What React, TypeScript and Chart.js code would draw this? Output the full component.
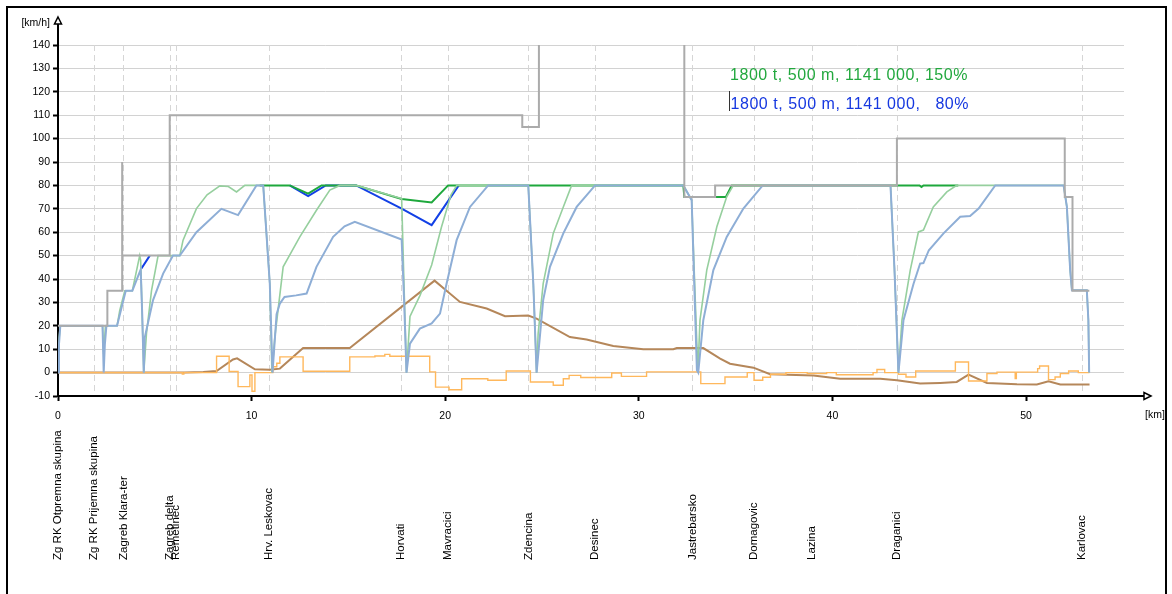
import React, { useEffect, useRef } from "react";
import { Chart, registerables } from "chart.js";

Chart.register(...registerables);

type P = [number, number | null];

// ---- axis / labels ----
const yMin = -10;
const yMax = 140;
const yStep = 10;
const xMin = 0;
const xMax = 55.06;
const xStep = 10;
const yAxisTitle = "[km/h]";
const xAxisTitle = "[km]";

// ---- stations ----
const stationKm = [0, 1.85, 3.38, 5.76, 6.1, 10.9, 17.7, 20.15, 24.3, 27.74, 32.77, 35.95, 38.94, 43.33, 52.89];
const stationNames = [
  "Zg RK Otpremna skupina",
  "Zg RK Prijemna skupina",
  "Zagreb Klara-ter",
  "Zagreb delta",
  "Remetinec",
  "Hrv. Leskovac",
  "Horvati",
  "Mavracici",
  "Zdencina",
  "Desinec",
  "Jastrebarsko",
  "Domagovic",
  "Lazina",
  "Draganici",
  "Karlovac",
];

// ---- legend texts ----
const legendGreen = "1800 t, 500 m, 1141 000, 150%";
const legendBlue = "1800 t, 500 m, 1141 000,   80%";

// ---- series: [km, value] ----
const speedLimit: P[] = [
  [0, 20], [2.55, 20], [2.55, 35], [3.31, 35], [3.31, 90], [3.32, 50], [5.77, 50], [5.77, 110],
  [23.98, 110], [23.98, 105], [24.84, 105], [24.84, 160], [32.35, 160], [32.35, 75],
  [33.94, 75], [33.94, 80], [43.33, 80], [43.33, 100], [52.0, 100], [52.0, 75], [52.4, 75],
  [52.4, 35], [53.27, 35],
];

const lightBlue: P[] = [
  [0, 0], [0.05, 12], [0.12, 20], [2.3, 20], [2.36, 0], [2.42, 12], [2.5, 20], [3.05, 20],
  [3.5, 35], [3.84, 35], [4.27, 44], [4.35, 25], [4.43, 0], [4.48, 15], [4.91, 31], [5.43, 42.3],
  [5.94, 50], [6.29, 50], [7.15, 60], [8.44, 70], [9.3, 67.3], [10.25, 80], [10.6, 80],
  [10.94, 38], [11.08, 0], [11.29, 25], [11.46, 29.5], [11.7, 32.3], [12.3, 33], [12.84, 33.8],
  [13.35, 45.2], [14.21, 58], [14.8, 62.5], [15.33, 64.4], [17.75, 56.9], [17.88, 30], [18.0, 0],
  [18.18, 12.4], [18.69, 18.8], [19.3, 21], [19.73, 25.2], [20.07, 38], [20.59, 56.6],
  [21.28, 70.8], [22.22, 80], [24.29, 80], [24.55, 38], [24.72, 0], [25.06, 31], [25.41, 45.2],
  [26.1, 59.5], [26.79, 70.8], [27.74, 80], [32.3, 80], [32.73, 73.7], [33.0, 1], [33.07, 0],
  [33.33, 22.4], [33.85, 43.8], [34.54, 58], [35.4, 70.1], [36.4, 80], [43.0, 80], [43.2, 45],
  [43.41, 0], [43.67, 22.4], [44.19, 38], [44.53, 46.6], [44.7, 46.8], [44.98, 52.3],
  [45.74, 59.5], [46.6, 66.6], [47.11, 66.9], [47.55, 70.1], [48.41, 80], [51.94, 80],
  [52.11, 70.8], [52.28, 43.8], [52.37, 35.2], [53.14, 35.2], [53.22, 22.4], [53.26, 0],
];

const lightGreen: P[] = [
  [0, 0], [0.06, 15], [0.12, 20], [2.3, 20], [2.36, 8], [2.45, 20], [3.05, 20], [3.19, 26.6],
  [3.45, 35], [3.84, 35], [4.22, 50], [4.27, 48], [4.43, 0], [4.57, 16.7], [4.83, 35],
  [5.17, 50], [6.29, 50], [6.46, 56.6], [7.15, 70.1], [7.7, 76], [8.36, 79.8], [8.8, 79.5],
  [9.22, 77.2], [9.65, 80], [10.6, 80], [10.94, 38], [11.05, 0], [11.2, 15.2], [11.63, 45.2],
  [12.49, 58], [13.35, 69.4], [14.04, 78], [14.56, 80], [15.4, 80], [17.75, 74.4],
  [17.88, 35], [18.0, 0], [18.18, 24], [18.7, 33], [19.3, 46], [19.8, 62], [20.3, 76],
  [20.6, 80], [24.29, 80], [24.55, 38], [24.72, 0], [24.8, 16.7], [25.06, 38], [25.58, 59.5],
  [26.1, 70.8], [26.53, 80], [32.3, 80], [32.73, 73.7], [33.05, 0], [33.16, 22.4],
  [33.51, 43.8], [34.03, 62.3], [34.54, 75.1], [34.88, 80], [43.0, 80], [43.2, 45], [43.41, 0],
  [43.59, 22.4], [44.02, 43.8], [44.44, 60.1], [44.7, 60.9], [45.21, 70.8], [45.91, 77.2],
  [46.42, 80], [51.94, 80], [52.11, 70.8], [52.28, 43.8], [52.37, 35.2], [53.14, 35.2],
  [53.22, 22.4], [53.26, 0],
];

const darkGreen: P[] = [
  [10.42, 80], [11.97, 80], [12.92, 76.5], [13.61, 80], [15.4, 80], [17.75, 74.2],
  [19.3, 72.7], [20.15, 80], [32.3, 80], [32.35, 75], [34.49, 75], [34.8, 80], [44.5, 80],
  [44.6, 79.3], [44.7, 80], [46.5, 80],
];

const darkBlue: P[] = [
  [4.31, 44.5], [4.74, 50], [4.75, null], [11.97, 80], [12.92, 75.4], [13.83, 80], [15.4, 80],
  [17.75, 70.1], [19.3, 63], [20.7, 80],
];

const brownProfile: P[] = [
  [0, 0], [6.55, 0], [7.5, 0.3], [8.19, 0.7], [9.04, 5.6], [9.25, 6.1], [10.17, 1.4],
  [10.94, 1.2], [11.46, 1.7], [12.66, 10.5], [15.07, 10.5], [19.45, 39.3], [20.07, 35],
  [20.76, 30.2], [22.14, 27.4], [23.09, 24.1], [24.29, 24.4], [24.72, 23.1], [26.44, 15.2],
  [27.3, 14.1], [28.68, 11.4], [30.23, 10], [31.78, 10], [31.96, 10.5], [33.33, 10.5],
  [34.2, 6], [34.71, 3.8], [35.92, 2.1], [36.78, -0.7], [39.02, -1.2], [40.4, -2.6],
  [42.47, -2.6], [43.33, -3.3], [44.53, -4.7], [45.57, -4.4], [46.42, -4], [47.03, -0.9],
  [47.98, -4.4], [49.53, -5], [50.56, -5.1], [51.16, -3.7], [51.77, -5.1], [53.28, -5.1],
];

const orangeSteps: P[] = [
  [0, 0], [6.42, 0], [6.42, -0.6], [6.5, -0.6], [6.5, 0], [8.19, 0], [8.19, 7], [8.84, 7],
  [8.84, 0.5], [9.3, 0.5], [9.3, -6], [9.91, -6], [9.91, -1], [10.02, -1], [10.02, -8],
  [10.17, -8], [10.17, 0], [11.1, 0], [11.1, 2.5], [11.3, 2.5], [11.3, 4], [11.46, 4],
  [11.46, 6.7], [12.66, 6.7], [12.66, 0.6], [15.07, 0.6], [15.07, 6.7], [16.37, 6.7],
  [16.37, 7.1], [16.88, 7.1], [16.88, 7.8], [17.14, 7.8], [17.14, 7], [19.2, 7], [19.2, 0.3],
  [19.5, 0.3], [19.5, -6.2], [20.2, -6.2], [20.2, -7.3], [20.85, -7.3], [20.85, -2.6],
  [22.2, -2.6], [22.2, -3.3], [23.15, -3.3], [23.15, 0.7], [24.4, 0.7], [24.4, -4],
  [25.58, -4], [25.58, -5.4], [26.1, -5.4], [26.1, -2.6], [26.4, -2.6], [26.4, -1.2],
  [27.0, -1.2], [27.0, -2.1], [28.6, -2.1], [28.6, -0.2], [29.1, -0.2], [29.1, -1.6],
  [30.4, -1.6], [30.4, 0.3], [33.2, 0.3], [33.2, -4.7], [34.45, -4.7], [34.45, -1.9],
  [35.6, -1.9], [35.6, 0], [35.95, 0], [35.95, -3.3], [36.4, -3.3], [36.4, -2], [36.8, -2],
  [36.8, -0.7], [37.6, -0.7], [37.6, 0], [38.7, 0], [38.7, -0.4], [39.7, -0.4], [39.7, 0],
  [40.2, 0], [40.2, -0.9], [42.1, -0.9], [42.1, 0], [42.3, 0], [42.3, 1.3], [42.7, 1.3],
  [42.7, 0], [43.4, 0], [43.4, -0.7], [43.8, -0.7], [43.8, -1.9], [44.3, -1.9], [44.3, 0.7],
  [46.35, 0.7], [46.35, 4.5], [47.03, 4.5], [47.03, -3.6], [47.98, -3.6], [47.98, -0.4],
  [48.5, -0.4], [48.5, 0.2], [49.44, 0.2], [49.44, -2.5], [49.5, -2.5], [49.5, 0.2],
  [50.6, 0.2], [50.6, 1.7], [50.7, 1.7], [50.7, 2.8], [51.16, 2.8], [51.16, -3], [51.5, -3],
  [51.5, -1.9], [51.77, -1.9], [51.77, -0.4], [52.2, -0.4], [52.2, 0.7], [52.7, 0.7],
  [52.7, 0], [53.28, 0],
];

const FONT = '"Liberation Sans", Arial, Helvetica, sans-serif';

const toXY = (arr: P[]) => arr.map(([x, y]) => ({ x, y }));

const decorPlugin = {
  id: "decor",
  beforeDatasetsDraw(chart: any) {
    const { ctx, chartArea: a, scales } = chart;
    const x = scales.x;
    ctx.save();
    ctx.strokeStyle = "#d6d6d6";
    ctx.lineWidth = 1;
    ctx.setLineDash([6, 4]);
    stationKm.forEach((km) => {
      if (km <= 0) return;
      const px = Math.round(x.getPixelForValue(km)) + 0.5;
      ctx.beginPath();
      ctx.moveTo(px, a.top);
      ctx.lineTo(px, a.bottom - 1);
      ctx.stroke();
    });
    ctx.restore();
  },
  afterDraw(chart: any) {
    const { ctx, chartArea: a, scales } = chart;
    const x = scales.x;
    ctx.save();
    // axis extensions
    ctx.strokeStyle = "#000";
    ctx.lineWidth = 2;
    ctx.beginPath();
    ctx.moveTo(a.left, a.top + 1);
    ctx.lineTo(a.left, 23);
    ctx.moveTo(a.right - 1, a.bottom);
    ctx.lineTo(1144, a.bottom);
    ctx.stroke();
    // arrows (open triangles)
    ctx.lineWidth = 1.5;
    ctx.fillStyle = "#fff";
    ctx.beginPath();
    ctx.moveTo(a.left, 17);
    ctx.lineTo(a.left + 3.5, 24);
    ctx.lineTo(a.left - 3.5, 24);
    ctx.closePath();
    ctx.fill();
    ctx.stroke();
    ctx.beginPath();
    ctx.moveTo(1151, a.bottom);
    ctx.lineTo(1144, a.bottom - 3.5);
    ctx.lineTo(1144, a.bottom + 3.5);
    ctx.closePath();
    ctx.fill();
    ctx.stroke();
    // axis titles
    ctx.fillStyle = "#000";
    ctx.font = `10.5px ${FONT}`;
    ctx.textBaseline = "middle";
    ctx.textAlign = "right";
    ctx.fillText(yAxisTitle, 50, 23);
    ctx.textAlign = "left";
    ctx.fillText(xAxisTitle, 1145, 415);
    // station labels
    ctx.font = `11.5px ${FONT}`;
    ctx.textAlign = "left";
    ctx.textBaseline = "middle";
    stationKm.forEach((km, i) => {
      const px = x.getPixelForValue(km);
      ctx.save();
      ctx.translate(px, 560);
      ctx.rotate(-Math.PI / 2);
      ctx.fillText(stationNames[i], 0, 0);
      ctx.restore();
    });
    // legend texts
    ctx.font = `16px ${FONT}`;
    (ctx as any).letterSpacing = "0.55px";
    ctx.textBaseline = "alphabetic";
    ctx.textAlign = "left";
    ctx.fillStyle = "#22a83e";
    ctx.fillText(legendGreen, 730, 79.5);
    ctx.fillStyle = "#1638e0";
    ctx.fillText(legendBlue, 730.5, 108.5);
    (ctx as any).letterSpacing = "0px";
    ctx.strokeStyle = "#333";
    ctx.lineWidth = 1;
    ctx.beginPath();
    ctx.moveTo(729.5, 91);
    ctx.lineTo(729.5, 111);
    ctx.stroke();
    // outer frame
    ctx.strokeStyle = "#000";
    ctx.lineWidth = 2;
    ctx.strokeRect(7, 7, 1159, 700);
    ctx.restore();
  },
};

export default function App() {
  const ref = useRef<HTMLCanvasElement | null>(null);
  useEffect(() => {
    if (!ref.current) return;
    const line = (data: P[], color: string, width: number, order: number) => ({
      data: toXY(data),
      borderColor: color,
      borderWidth: width,
      pointRadius: 0,
      tension: 0,
      fill: false,
      spanGaps: false,
      order,
    });
    const chart = new Chart(ref.current, {
      type: "line",
      data: {
        datasets: [
          line(speedLimit, "#ababab", 2, 0),
          line(lightBlue, "#8eaed6", 2, 1),
          line(lightGreen, "#96cf9e", 1.6, 2),
          line(darkGreen, "#1ea83c", 2, 3),
          line(darkBlue, "#1240e6", 2, 4),
          line(orangeSteps, "#ffb85c", 1.4, 5),
          line(brownProfile, "#b5875a", 2, 6),
        ] as any,
      },
      options: {
        responsive: false,
        animation: false,
        devicePixelRatio: 1,
        events: [],
        layout: { padding: { left: 0, right: 48, top: 45, bottom: 0 } },
        plugins: { legend: { display: false }, tooltip: { enabled: false } },
        scales: {
          x: {
            type: "linear",
            min: xMin,
            max: xMax,
            ticks: {
              stepSize: xStep,
              includeBounds: false,
              maxRotation: 0,
              color: "#000",
              padding: 9,
              font: { family: FONT, size: 10.5 },
            },
            grid: { drawOnChartArea: false, drawTicks: true, tickLength: 5, tickColor: "#000", tickWidth: 2 },
            border: { color: "#000", width: 2 },
            afterFit: (s: any) => {
              s.height = 198;
            },
          },
          y: {
            type: "linear",
            min: yMin,
            max: yMax,
            ticks: {
              stepSize: yStep,
              color: "#000",
              padding: 3,
              font: { family: FONT, size: 10.5 },
            },
            grid: { color: "#d2d2d2", lineWidth: 1, tickLength: 5, tickColor: "#000", tickWidth: 2 },
            border: { color: "#000", width: 2 },
            afterFit: (s: any) => {
              s.width = 58;
            },
          },
        },
      } as any,
      plugins: [decorPlugin],
    });
    return () => chart.destroy();
  }, []);
  return (
    <div style={{ position: "absolute", left: 0, top: 0, width: 1172, height: 594, background: "#fff" }}>
      <canvas ref={ref} width={1172} height={594} style={{ display: "block" }} />
    </div>
  );
}
